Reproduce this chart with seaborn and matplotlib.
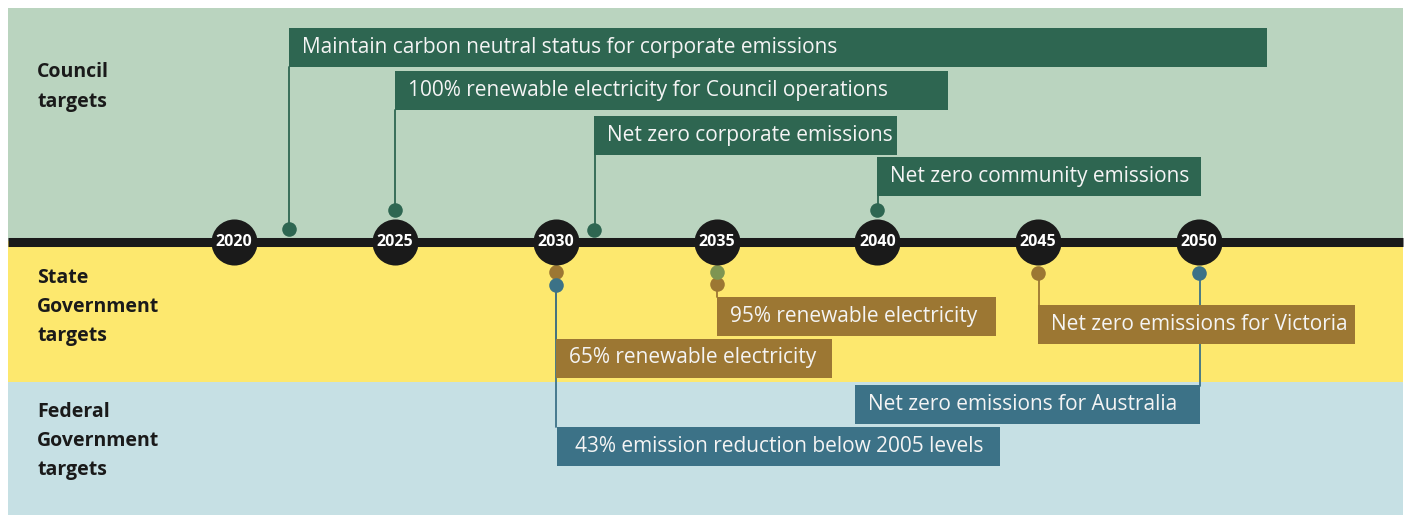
import matplotlib
matplotlib.use("Agg")
import matplotlib.pyplot as plt
import seaborn as sns

# ── Data ──────────────────────────────────────────────────────────────────────
years = [2020, 2025, 2030, 2035, 2040, 2045, 2050]

council_targets = ["Maintain carbon neutral status for corporate emissions",
                   "100% renewable electricity for Council operations",
                   "Net zero corporate emissions",
                   "Net zero community emissions"]
council_years = [2021.7, 2025, 2031.2, 2040]

state_targets = ["65% renewable electricity",
                 "95% renewable electricity",
                 "Net zero emissions for Victoria"]
state_years = [2030, 2035, 2045]

federal_targets = ["43% emission reduction below 2005 levels",
                   "Net zero emissions for Australia"]
federal_years = [2030, 2050]

extra_years = [2035]   # olive marker above the 2035 state marker

# ── Layout (pixel rows, box spans in years) ──────────────────────────────────
council_dot_y = [229, 210, 230, 210]
council_box_y = [47.5, 90.5, 135.5, 176.5]
council_box_end = [2052.1, 2042.2, 2040.6, 2050.05]

state_dot_y = [272, 284, 273]
state_box_y = [358, 316.5, 324.5]
state_box_end = [2038.6, 2043.7, 2054.85]

federal_dot_y = [285, 273]
federal_box_y = [446.5, 404.5]
federal_box_span = [(2030.03, 2043.8), (2039.3, 2050.03)]
federal_line_end = [427, 386]

GREEN_BG, GREEN = "#bad4bf", "#2e6651"
YELLOW_BG, BROWN = "#fde86e", "#9c7733"
BLUE_BG, TEAL = "#c6e0e4", "#3c7287"
OLIVE = "#7e9552"
DARK = "#1a1a1a"
BOX_H = 39

sns.set_theme(style="white")
plt.rcParams["font.family"] = ["Open Sans", "DejaVu Sans"]

fig = plt.figure(figsize=(14.05, 5.15), dpi=100)
ax = fig.add_axes([0, 0, 1, 1])
px = (1199 - 234) / 30.0
x0 = 2020 - 234 / px
ax.set_xlim(x0, x0 + 1405 / px)
ax.set_ylim(515, 0)
ax.axis("off")

def xp(p):
    return x0 + p / px

# bands
ax.fill_between([xp(8), xp(1403)], 8, 241, color=GREEN_BG, lw=0, zorder=0)
ax.fill_between([xp(8), xp(1403)], 241, 382, color=YELLOW_BG, lw=0, zorder=0)
ax.fill_between([xp(8), xp(1403)], 382, 515, color=BLUE_BG, lw=0, zorder=0)
ax.plot([xp(8), xp(1403)], [241.5, 241.5], color=DARK, lw=6.5, zorder=2,
        solid_capstyle="butt")

# row labels
lab_kw = dict(fontsize=14, fontweight="bold", color=DARK, va="center",
              ha="left", linespacing=1.62)
ax.text(xp(37), 87, "Council\ntargets", **lab_kw)
ax.text(xp(37), 307, "State\nGovernment\ntargets", **lab_kw)
ax.text(xp(37), 441, "Federal\nGovernment\ntargets", **lab_kw)

def box(x_start, x_end, yc, text, color, pad=13):
    ax.barh(yc, x_end - x_start, left=x_start, height=BOX_H, color=color,
            lw=0, zorder=4)
    ax.text(x_start + pad / px, yc, text, color="#f4f4f4", fontsize=15,
            va="center", ha="left", zorder=5)

# council
for yr, dy, by, end, txt in zip(council_years, council_dot_y, council_box_y,
                                council_box_end, council_targets):
    ax.plot([yr + 0.5 / px] * 2, [by + BOX_H / 2, dy], color=GREEN, lw=1.3,
            zorder=3)
    box(yr, end, by, txt, GREEN)
sns.scatterplot(x=council_years, y=council_dot_y, color=GREEN, s=110,
                linewidth=0, zorder=6, ax=ax)

# state
for yr, dy, by, end, txt in zip(state_years, state_dot_y, state_box_y,
                                state_box_end, state_targets):
    ax.plot([yr + 0.5 / px] * 2, [dy, by - BOX_H / 2], color=BROWN, lw=1.3,
            zorder=3)
    box(yr, end, by, txt, BROWN)
sns.scatterplot(x=state_years, y=state_dot_y, color=BROWN, s=110,
                linewidth=0, zorder=6, ax=ax)
sns.scatterplot(x=extra_years, y=[272], color=OLIVE, s=110,
                linewidth=0, zorder=6, ax=ax)

# federal
for yr, dy, by, le, span, txt in zip(federal_years, federal_dot_y,
                                     federal_box_y, federal_line_end,
                                     federal_box_span, federal_targets):
    ax.plot([yr + 0.5 / px] * 2, [dy, le], color=TEAL, lw=1.3, zorder=3)
    box(span[0], span[1], by, txt, TEAL, pad=13 if span[0] <= yr else 18)
sns.scatterplot(x=federal_years, y=federal_dot_y, color=TEAL, s=110,
                linewidth=0, zorder=6, ax=ax)

# year markers
sns.scatterplot(x=years, y=[241.5] * len(years), color=DARK, s=1100,
                linewidth=0, zorder=7, ax=ax)
for yr in years:
    ax.text(yr, 242, str(yr), color="white", fontsize=11.5,
            fontweight="bold", ha="center", va="center", zorder=8)

fig.savefig("out.png", dpi=100)
